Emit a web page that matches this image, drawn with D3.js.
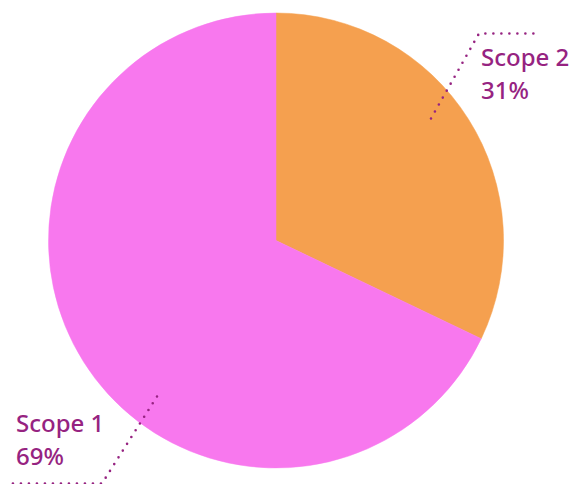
<!DOCTYPE html>
<html>
<head>
<meta charset="utf-8">
<script src="https://cdn.jsdelivr.net/npm/d3@7"></script>
<style>
  html, body { margin: 0; padding: 0; background: #fff; }
  svg { display: block; }
  text { font-family: "Noto Sans", "Open Sans", sans-serif; }
</style>
</head>
<body>
<svg id="chart" width="585" height="484"></svg>
<script>
// dados
const categories = ['Scope 2', 'Scope 1'];
const shares = [32.1, 67.9];          // fatias medidas no desenho
const pctLabels = ['31%', '69%'];     // texto como aparece
const colors = ['#F5A04F', '#F878EE'];
const labelColor = '#962381';

const width = 585, height = 484;
const cx = 276, cy = 240.5, radius = 227.5;

const svg = d3.select('#chart');
const g = svg.append('g').attr('transform', `translate(${cx},${cy})`);

const pie = d3.pie().sort(null).value(d => d.value);
const arcs = pie(categories.map((c, i) => ({ name: c, value: shares[i], pct: pctLabels[i], color: colors[i] })));
const arc = d3.arc().innerRadius(0).outerRadius(radius);

g.selectAll('path.slice')
  .data(arcs)
  .join('path')
    .attr('class', 'slice')
    .attr('fill', d => d.data.color)
    .attr('stroke', d => d.data.color)
    .attr('stroke-width', 0.5)
    .attr('d', arc);

// linhas de chamada: ponto dentro da fatia -> cotovelo -> horizontal
const leaders = [
  { from: [155, -122], elbow: [203, -207], end: [261, -207], text: [205, -175], anchor: 'start' },
  { from: [-119, 156], elbow: [-174, 243], end: [-264, 243], text: [-260, 191], anchor: 'start' }
];

arcs.forEach((d, i) => {
  const L = leaders[i];
  g.append('path')
    .attr('d', d3.line()([L.from, L.elbow, L.end]))
    .attr('fill', 'none')
    .attr('stroke', labelColor)
    .attr('stroke-width', 2.6)
    .attr('stroke-linecap', 'round')
    .attr('stroke-dasharray', '0 8');
  const t = g.append('text')
    .attr('x', L.text[0])
    .attr('y', L.text[1])
    .attr('text-anchor', L.anchor)
    .attr('fill', labelColor)
    .attr('font-size', 24)
    .attr('font-weight', 500);
  t.append('tspan').attr('x', L.text[0]).text(d.data.name);
  t.append('tspan').attr('x', L.text[0]).attr('dy', 33).text(d.data.pct);
});
</script>
</body>
</html>
